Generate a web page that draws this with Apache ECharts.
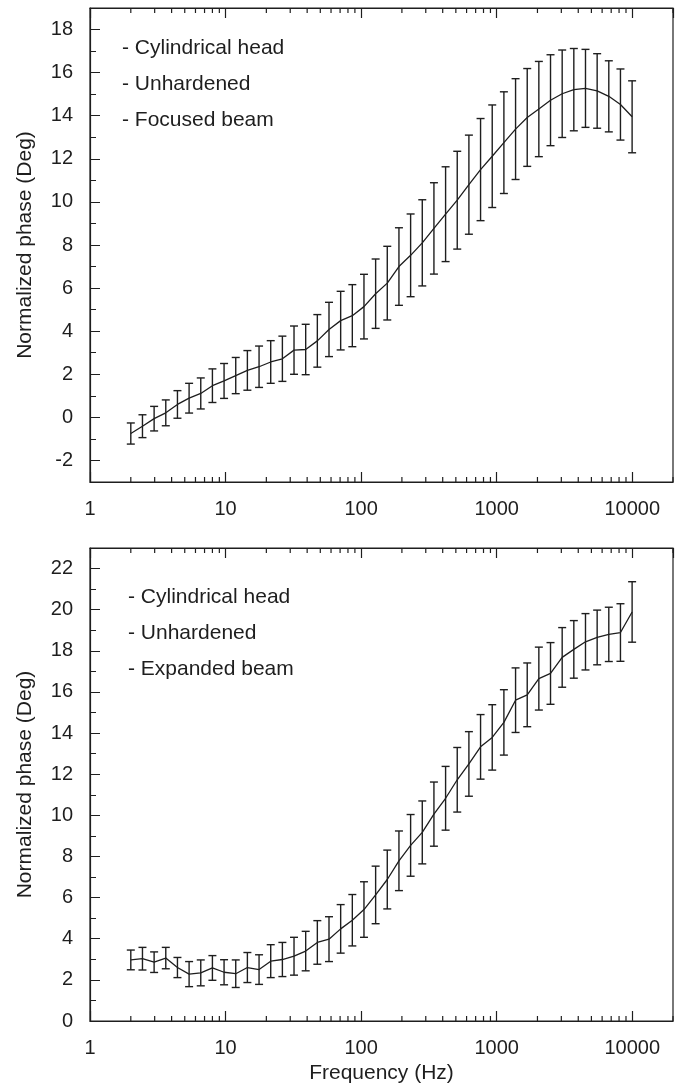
<!DOCTYPE html>
<html>
<head>
<meta charset="utf-8">
<script src="https://cdn.jsdelivr.net/npm/echarts@6/dist/echarts.min.js"></script>
<style>
    html, body { margin: 0; padding: 0; background: #fff; }
    #chart { width: 679px; height: 1091px; }
</style>
</head>
<body>
<div id="chart"></div>
<script>

// Data
// ------------------------------

// Frequencies (Hz), shared by both panels
var freqs = [2, 2.438, 2.972, 3.623, 4.417, 5.384, 6.564, 8, 9.752, 11.89,
    14.49, 17.67, 21.54, 26.26, 32, 39.01, 47.55, 57.97, 70.67, 86.15,
    105.0, 128, 156.0, 190.2, 231.9, 282.7, 344.6, 420.1, 512, 624.2,
    760.9, 927.6, 1131, 1379, 1681, 2048, 2497, 3044, 3710, 4523,
    5514, 6721, 8192, 9986];

// Top panel - focused beam
var focusedPhase = [-0.75, -0.41, -0.06, 0.21, 0.6, 0.89, 1.11, 1.47, 1.69, 1.94,
    2.18, 2.35, 2.57, 2.72, 3.12, 3.15, 3.55, 4.08, 4.49, 4.72,
    5.14, 5.74, 6.23, 7.0, 7.52, 8.1, 8.77, 9.43, 10.08, 10.8,
    11.5, 12.12, 12.75, 13.38, 13.92, 14.31, 14.72, 15.02, 15.21, 15.27,
    15.15, 14.9, 14.52, 13.95];
var focusedErr = [0.49, 0.53, 0.57, 0.6, 0.64, 0.69, 0.72, 0.78, 0.81, 0.84,
    0.92, 0.96, 0.99, 1.05, 1.12, 1.17, 1.22, 1.26, 1.36, 1.44,
    1.5, 1.61, 1.71, 1.8, 1.92, 2.0, 2.12, 2.2, 2.27, 2.3,
    2.37, 2.38, 2.36, 2.34, 2.27, 2.21, 2.11, 2.03, 1.91, 1.81,
    1.73, 1.65, 1.65, 1.67];

// Bottom panel - expanded beam
var expandedPhase = [2.97, 3.03, 2.86, 3.06, 2.6, 2.28, 2.34, 2.58, 2.37, 2.3,
    2.6, 2.5, 2.91, 2.99, 3.15, 3.4, 3.82, 3.98, 4.48, 4.9,
    5.42, 6.13, 6.88, 7.79, 8.54, 9.17, 10.06, 10.83, 11.73, 12.5,
    13.33, 13.79, 14.52, 15.6, 15.86, 16.65, 16.9, 17.68, 18.07, 18.44,
    18.65, 18.8, 18.89, 19.89];
var expandedErr = [0.48, 0.55, 0.5, 0.52, 0.49, 0.61, 0.63, 0.6, 0.61, 0.67,
    0.73, 0.72, 0.8, 0.83, 0.92, 0.96, 1.06, 1.09, 1.18, 1.25,
    1.35, 1.4, 1.43, 1.45, 1.5, 1.53, 1.56, 1.55, 1.57, 1.57,
    1.57, 1.59, 1.59, 1.57, 1.55, 1.53, 1.5, 1.45, 1.4, 1.37,
    1.33, 1.32, 1.4, 1.47];

// Log minor tick positions
var minorTicks = [2, 3, 4, 5, 6, 7, 8, 9,
    20, 30, 40, 50, 60, 70, 80, 90,
    200, 300, 400, 500, 600, 700, 800, 900,
    2000, 3000, 4000, 5000, 6000, 7000, 8000, 9000, 20000];

var notes1 = ['- Cylindrical head', '- Unhardened', '- Focused beam'];
var notes2 = ['- Cylindrical head', '- Unhardened', '- Expanded beam'];


// Setup
// ------------------------------

var INK = '#1e1e1e';
var FONT = '"Liberation Sans", Arial, Helvetica, sans-serif';

var chart = echarts.init(document.getElementById('chart'), null, {renderer: 'canvas'});

// error bar renderer
var renderErrorBar = function(params, api) {
    var x = api.value(0);
    var lo = api.coord([x, api.value(1)]);
    var hi = api.coord([x, api.value(2)]);
    var cap = 4;
    var style = {stroke: INK, lineWidth: 1.4};
    return {
        type: 'group',
        children: [
            {type: 'line', shape: {x1: lo[0], y1: lo[1], x2: hi[0], y2: hi[1]}, style: style},
            {type: 'line', shape: {x1: lo[0] - cap, y1: lo[1], x2: lo[0] + cap, y2: lo[1]}, style: style},
            {type: 'line', shape: {x1: hi[0] - cap, y1: hi[1], x2: hi[0] + cap, y2: hi[1]}, style: style}
        ]
    };
};

// minor log ticks on bottom and top of the frame
var renderMinorTick = function(params, api) {
    var p = api.coord([api.value(0), api.value(1)]);
    var cs = params.coordSys;
    var bottom = cs.y + cs.height;
    var style = {stroke: INK, lineWidth: 1.2};
    return {
        type: 'group',
        children: [
            {type: 'line', shape: {x1: p[0], y1: bottom, x2: p[0], y2: bottom - 5}, style: style},
            {type: 'line', shape: {x1: p[0], y1: cs.y, x2: p[0], y2: cs.y + 5}, style: style}
        ]
    };
};

var errData = function(mean, err) {
    return freqs.map(function(f, i) {
        return [f, +(mean[i] - err[i]).toFixed(3), +(mean[i] + err[i]).toFixed(3)];
    });
};
var lineData = function(mean) {
    return freqs.map(function(f, i) { return [f, mean[i]]; });
};

var xAxisBase = function(gridIndex, position, showLabel) {
    return {
        type: 'log',
        logBase: 10,
        gridIndex: gridIndex,
        position: position,
        min: 1,
        max: 20000,
        axisLine: {show: true, onZero: false, lineStyle: {color: INK, width: 1.2}},
        axisTick: {show: true, inside: true, length: 10, lineStyle: {color: INK, width: 1.2}},
        axisLabel: {
            show: showLabel,
            margin: 17,
            color: INK,
            fontSize: 20,
            fontFamily: FONT,
            showMaxLabel: false,
            formatter: function(v) { return String(Math.round(v)); }
        },
        splitLine: {show: false},
        minorTick: {show: false}
    };
};

var yAxisBase = function(gridIndex, min, max) {
    return {
        type: 'value',
        gridIndex: gridIndex,
        min: min,
        max: max,
        splitNumber: 11,
        name: 'Normalized phase (Deg)',
        nameLocation: 'middle',
        nameGap: 54,
        nameTextStyle: {color: INK, fontSize: 21, fontFamily: FONT},
        axisLine: {show: true, onZero: false, lineStyle: {color: INK, width: 1.2}},
        axisTick: {show: true, inside: true, length: 10, lineStyle: {color: INK, width: 1}},
        minorTick: {show: true, splitNumber: 2, length: 6, lineStyle: {color: INK, width: 1}},
        axisLabel: {
            margin: 17,
            color: INK,
            fontSize: 20,
            fontFamily: FONT,
            showMinLabel: min % 2 === 0,
            showMaxLabel: false
        },
        splitLine: {show: false}
    };
};

var noteText = function(lines, x, y0) {
    return lines.map(function(t, i) {
        return {
            type: 'text',
            x: x,
            y: y0 + i * 36,
            style: {
                text: t,
                fill: INK,
                font: '21px ' + FONT,
                verticalAlign: 'middle'
            }
        };
    });
};

var xBottom2 = xAxisBase(1, 'bottom', true);
xBottom2.name = 'Frequency (Hz)';
xBottom2.nameLocation = 'middle';
xBottom2.nameGap = 42;
xBottom2.nameTextStyle = {color: INK, fontSize: 21, fontFamily: FONT};

chart.setOption({
    animation: false,
    backgroundColor: '#fff',
    textStyle: {fontFamily: FONT},

    grid: [
        {left: 90, top: 8, width: 583, height: 474, show: true, borderColor: INK, borderWidth: 1.2},
        {left: 90, top: 548, width: 583, height: 473, show: true, borderColor: INK, borderWidth: 1.2}
    ],

    xAxis: [
        xAxisBase(0, 'bottom', true),
        xAxisBase(0, 'top', false),
        xBottom2,
        xAxisBase(1, 'top', false)
    ],

    yAxis: [
        yAxisBase(0, -3, 19),
        yAxisBase(1, 0, 23)
    ],

    graphic: noteText(notes1, 122, 48).concat(noteText(notes2, 128, 597)),

    series: [
        {
            type: 'custom',
            xAxisIndex: 0,
            yAxisIndex: 0,
            silent: true,
            clip: false,
            renderItem: renderMinorTick,
            data: minorTicks.map(function(v) { return [v, 0]; })
        },
        {
            type: 'custom',
            xAxisIndex: 2,
            yAxisIndex: 1,
            silent: true,
            clip: false,
            renderItem: renderMinorTick,
            data: minorTicks.map(function(v) { return [v, 1]; })
        },
        {
            name: 'Focused beam',
            type: 'line',
            xAxisIndex: 0,
            yAxisIndex: 0,
            showSymbol: false,
            lineStyle: {color: INK, width: 1.3},
            data: lineData(focusedPhase)
        },
        {
            type: 'custom',
            xAxisIndex: 0,
            yAxisIndex: 0,
            renderItem: renderErrorBar,
            data: errData(focusedPhase, focusedErr)
        },
        {
            name: 'Expanded beam',
            type: 'line',
            xAxisIndex: 2,
            yAxisIndex: 1,
            showSymbol: false,
            lineStyle: {color: INK, width: 1.3},
            data: lineData(expandedPhase)
        },
        {
            type: 'custom',
            xAxisIndex: 2,
            yAxisIndex: 1,
            renderItem: renderErrorBar,
            data: errData(expandedPhase, expandedErr)
        }
    ]
});

</script>
</body>
</html>
